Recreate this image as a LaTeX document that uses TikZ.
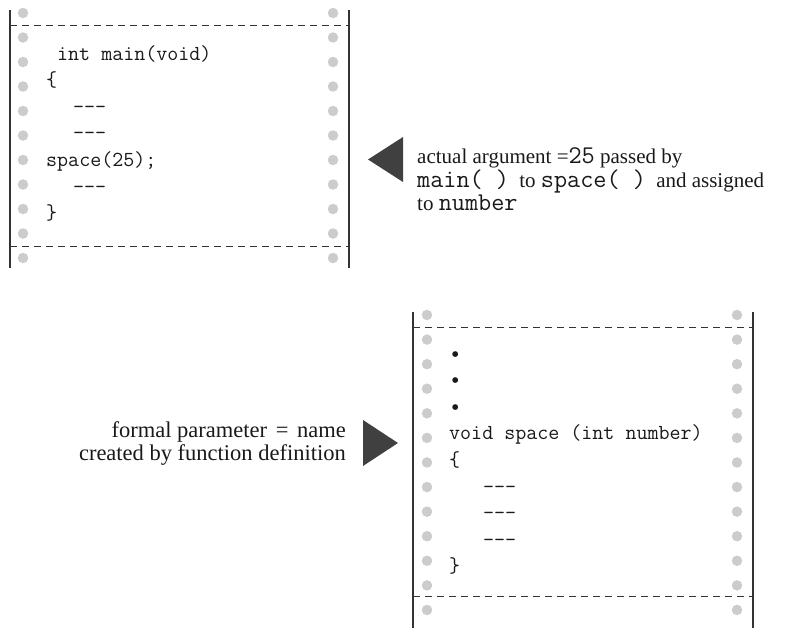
\documentclass[tikz,border=0pt]{standalone}
\usepackage{fontspec}
\setmainfont{Liberation Serif}
\newfontfamily\codefont{Latin Modern Mono}
\newcommand{\cw}[1]{{\codefont\fontsize{25.5}{26}\selectfont #1}}
\begin{document}
\begin{tikzpicture}[x=1pt,y=-1pt,
  rail/.style={line width=1.3pt, draw=black!80},
  perf/.style={line width=1pt, draw=black!80, dash pattern=on 7pt off 5pt},
  hole/.style={circle, fill=black!20, draw=none, minimum size=10.5pt, inner sep=0pt},
  code/.style={font=\fontsize{21.4}{24}\selectfont\codefont, inner sep=0pt, anchor=base west, text=black!90},
  bullet/.style={font=\fontsize{24}{26}\selectfont, inner sep=0pt, anchor=base west, text=black!90},
  noteA/.style={font=\fontsize{21}{23.5}\selectfont, inner sep=0pt, text=black!90},
  noteB/.style={font=\fontsize{22.5}{23.5}\selectfont, inner sep=0pt, text=black!90},
  pointer/.style={fill=black!75, draw=none}]
\useasboundingbox (0,0) rectangle (785,629);

% ---------- form 1 ----------
\coordinate (a1) at (10,10);   \coordinate (a2) at (10,268);
\coordinate (b1) at (349,10);  \coordinate (b2) at (349,268);
\coordinate (a3) at (10,25);   \coordinate (b3) at (349,25);
\coordinate (a4) at (10,246);  \coordinate (b4) at (349,246);
\draw[rail] (a1) -- (a2);
\draw[rail] (b1) -- (b2);
\draw[perf] (a3) -- (b3);
\draw[perf] (a4) -- (b4);
\foreach \i in {0,...,10} {
  \node[hole] (fl\i) at (23,13+24.5*\i) {};
  \node[hole] (fr\i) at (333,13+24.5*\i) {};
}
\node[code] (m1) at (57,60) {int main(void)};
\node[code] (m2) at (46,86.6) {\{};
\node[code] (m3) at (73,113.2) {{-}{-}{-}};
\node[code] (m4) at (73,139.8) {{-}{-}{-}};
\node[code] (m5) at (46,166.4) {space(25);};
\node[code] (m6) at (73,193) {{-}{-}{-}};
\node[code] (m7) at (46,219.6) {\}};

% ---------- pointer + note 1 ----------
\fill[pointer] (403,137) -- (368,159.5) -- (403,182) -- cycle;
\node[noteA, anchor=base west] (n1) at (417,163) {actual argument =\cw{25} passed by};
\node[noteA, anchor=base west] (n2) at (417,187) {\cw{main(\ )}\hspace{5pt} to \cw{space(\ )}\hspace{5pt} and assigned};
\node[noteA, anchor=base west] (n3) at (417,210.5) {to \cw{number}};

% ---------- form 2 ----------
\coordinate (c1) at (413,312);  \coordinate (c2) at (413,628);
\coordinate (d1) at (753,312);  \coordinate (d2) at (753,628);
\coordinate (c3) at (413,327);  \coordinate (d3) at (753,327);
\coordinate (c4) at (413,596);  \coordinate (d4) at (753,596);
\draw[rail] (c1) -- (c2);
\draw[rail] (d1) -- (d2);
\draw[perf] (c3) -- (d3);
\draw[perf] (c4) -- (d4);
\foreach \i in {0,...,12} {
  \node[hole] (gl\i) at (427,315+24.58*\i) {};
  \node[hole] (gr\i) at (737,315+24.58*\i) {};
}
\node[bullet] (s1) at (451,362) {•};
\node[bullet] (s2) at (451,388.6) {•};
\node[bullet] (s3) at (451,415.2) {•};
\node[code] (s4) at (449,439.8) {void space (int number)};
\node[code] (s5) at (449,466.4) {\{};
\node[code] (s6) at (483,493) {{-}{-}{-}};
\node[code] (s7) at (483,519.6) {{-}{-}{-}};
\node[code] (s8) at (483,546.2) {{-}{-}{-}};
\node[code] (s9) at (449,572.8) {\}};

% ---------- pointer + note 2 ----------
\fill[pointer] (363,420) -- (398,443) -- (363,466) -- cycle;
\node[noteB, anchor=base east] (r1) at (346,437) {formal parameter\hspace{3pt} = \hspace{3pt}name};
\node[noteB, anchor=base east] (r2) at (346,460) {created by function definition};
\end{tikzpicture}
\end{document}
